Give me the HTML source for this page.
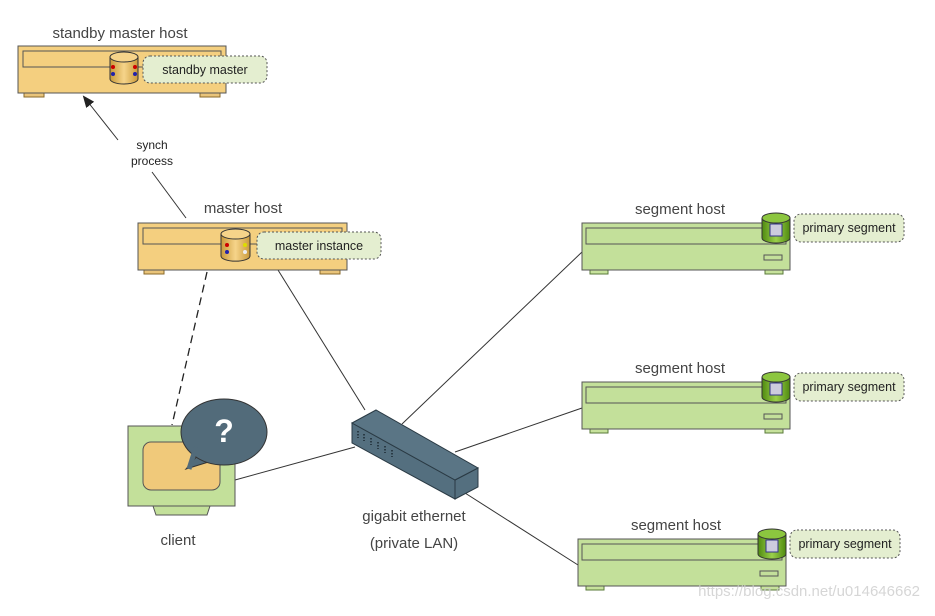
<!DOCTYPE html>
<html><head><meta charset="utf-8"><style>
body{margin:0;background:#fff;}
svg text{font-family:"Liberation Sans",Arial,sans-serif;}
</style></head><body>
<svg width="935" height="611" viewBox="0 0 935 611" xmlns="http://www.w3.org/2000/svg">
<defs>
<marker id="ah" markerWidth="12" markerHeight="10" refX="10" refY="5" orient="auto" markerUnits="userSpaceOnUse"><path d="M0,0 L12,5 L0,10 z" fill="#222"/></marker>
<linearGradient id="cylO" x1="0" x2="1"><stop offset="0" stop-color="#c99a3a"/><stop offset="0.5" stop-color="#f6d48a"/><stop offset="1" stop-color="#c99a3a"/></linearGradient>
<linearGradient id="cylG" x1="0" x2="1"><stop offset="0" stop-color="#4f8a10"/><stop offset="0.5" stop-color="#9bd04a"/><stop offset="1" stop-color="#4f8a10"/></linearGradient>
</defs>
<!-- connectors -->
<line x1="186" y1="218" x2="152" y2="172" stroke="#333" stroke-width="1"/>
<line x1="118" y1="140" x2="84" y2="97" stroke="#333" stroke-width="1" marker-end="url(#ah)"/>
<line x1="207" y1="272" x2="172" y2="425" stroke="#222" stroke-width="1.3" stroke-dasharray="8,5"/>
<line x1="278" y1="270" x2="365" y2="410" stroke="#333"/>
<line x1="235" y1="480" x2="355" y2="447" stroke="#333"/>
<line x1="402" y1="424" x2="582" y2="252" stroke="#333"/>
<line x1="455" y1="452" x2="582" y2="408" stroke="#333"/>
<line x1="465" y1="493" x2="578" y2="565" stroke="#333"/>
<text x="152" y="149" font-size="12" text-anchor="middle" fill="#222">synch</text>
<text x="152" y="165" font-size="12" text-anchor="middle" fill="#222">process</text>

<!-- standby master host -->
<text x="120" y="38" font-size="15" text-anchor="middle" fill="#444">standby master host</text>
<rect x="24" y="93" width="20" height="4" fill="#e9c47a" stroke="#8a6a2a"/>
<rect x="200" y="93" width="20" height="4" fill="#e9c47a" stroke="#8a6a2a"/>
<rect x="18" y="46" width="208" height="47" fill="#f4cf7f" stroke="#555"/>
<rect x="23" y="51" width="198" height="16" fill="#f4cf7f" stroke="#555"/>
<path d="M110,57 v22 a14,5 0 0 0 28,0 v-22" fill="url(#cylO)" stroke="#333"/>
<ellipse cx="124" cy="57" rx="14" ry="5" fill="#f6d48a" stroke="#333"/>
<circle cx="113" cy="67" r="2" fill="#c00"/><circle cx="113" cy="74" r="2" fill="#22a"/><circle cx="135" cy="67" r="2" fill="#c00"/><circle cx="135" cy="74" r="2" fill="#22a"/>
<rect x="143" y="56" width="124" height="27" rx="7" fill="#e4eed0" stroke="#555" stroke-dasharray="2,2"/>
<text x="205" y="74" font-size="12.5" text-anchor="middle" fill="#222">standby master</text>

<!-- master host -->
<text x="243" y="213" font-size="15" text-anchor="middle" fill="#444">master host</text>
<rect x="144" y="270" width="20" height="4" fill="#e9c47a" stroke="#8a6a2a"/>
<rect x="320" y="270" width="20" height="4" fill="#e9c47a" stroke="#8a6a2a"/>
<rect x="138" y="223" width="209" height="47" fill="#f4cf7f" stroke="#555"/>
<rect x="143" y="228" width="199" height="16" fill="#f4cf7f" stroke="#555"/>
<path d="M221,234 v22 a14,5 0 0 0 29,0 v-22" fill="url(#cylO)" stroke="#333"/>
<ellipse cx="235.5" cy="234" rx="14.5" ry="5" fill="#f6d48a" stroke="#333"/>
<circle cx="227" cy="245" r="2" fill="#c00"/><circle cx="227" cy="252" r="2" fill="#22a"/><circle cx="245" cy="245" r="2" fill="#dd0"/><circle cx="245" cy="252" r="2" fill="#eee"/>
<rect x="257" y="232" width="124" height="27" rx="7" fill="#e4eed0" stroke="#555" stroke-dasharray="2,2"/>
<text x="319" y="250" font-size="12.5" text-anchor="middle" fill="#222">master instance</text>

<!-- segment hosts -->
<g id="seg">
<rect x="590" y="270" width="18" height="4" fill="#c7e29c" stroke="#5a7a3a"/>
<rect x="765" y="270" width="18" height="4" fill="#c7e29c" stroke="#5a7a3a"/>
<rect x="582" y="223" width="208" height="47" fill="#c3e09a" stroke="#555"/>
<rect x="586" y="228" width="200" height="16" fill="#c3e09a" stroke="#555"/>
<rect x="764" y="255" width="18" height="5" fill="#c3e09a" stroke="#555"/>
<path d="M762,218 v20 a14,5 0 0 0 28,0 v-20" fill="url(#cylG)" stroke="#333"/>
<ellipse cx="776" cy="218" rx="14" ry="5" fill="#8cc63f" stroke="#333"/>
<rect x="770" y="224" width="12" height="12" fill="#ccd" stroke="#338"/>
<rect x="794" y="214" width="110" height="28" rx="7" fill="#e4eed0" stroke="#555" stroke-dasharray="2,2"/>
<text x="849" y="232" font-size="12.5" text-anchor="middle" fill="#222">primary segment</text>
</g>
<text x="680" y="214" font-size="15" text-anchor="middle" fill="#444">segment host</text>
<use href="#seg" transform="translate(0,159)"/>
<text x="680" y="373" font-size="15" text-anchor="middle" fill="#444">segment host</text>
<use href="#seg" transform="translate(-4,316)"/>
<text x="676" y="530" font-size="15" text-anchor="middle" fill="#444">segment host</text>

<!-- client -->
<path d="M153,506 h57 l-3,9 h-51 z" fill="#c3e09a" stroke="#555"/>
<rect x="128" y="426" width="107" height="80" fill="#c3e09a" stroke="#555"/>
<rect x="143" y="442" width="77" height="48" rx="8" fill="#f0c97a" stroke="#555"/>
<path d="M198,455 L186,469 L215,460 z" fill="#526b7a" stroke="#333"/>
<ellipse cx="224" cy="432" rx="43" ry="33" fill="#526b7a" stroke="#333"/>
<path d="M196,447 L189,469" stroke="#526b7a" stroke-width="5"/>
<text x="224" y="442" font-size="32" font-weight="bold" text-anchor="middle" fill="#fff">?</text>
<text x="178" y="545" font-size="15" text-anchor="middle" fill="#444">client</text>

<!-- switch -->
<polygon points="352,423 455,480 455,499 352,443" fill="#546f7f" stroke="#2a3a44"/>
<polygon points="455,480 478,468 478,487 455,499" fill="#546f7f" stroke="#2a3a44"/>
<polygon points="352,423 376,410 478,468 455,480" fill="#5a7585" stroke="#2a3a44"/>
<g stroke="#1d2a33" stroke-width="1.5" stroke-dasharray="1.5,1.5">
<line x1="358" y1="431" x2="358" y2="438"/><line x1="364" y1="434" x2="364" y2="441"/><line x1="371" y1="438" x2="371" y2="445"/><line x1="378" y1="442" x2="378" y2="449"/><line x1="385" y1="446" x2="385" y2="453"/><line x1="392" y1="450" x2="392" y2="457"/>
</g>
<text x="414" y="521" font-size="15" text-anchor="middle" fill="#444">gigabit ethernet</text>
<text x="414" y="548" font-size="15" text-anchor="middle" fill="#444">(private LAN)</text>
<text x="920" y="596" font-size="15" text-anchor="end" fill="#ccc" opacity="0.8">https://blog.csdn.net/u014646662</text>
</svg>
</body></html>
